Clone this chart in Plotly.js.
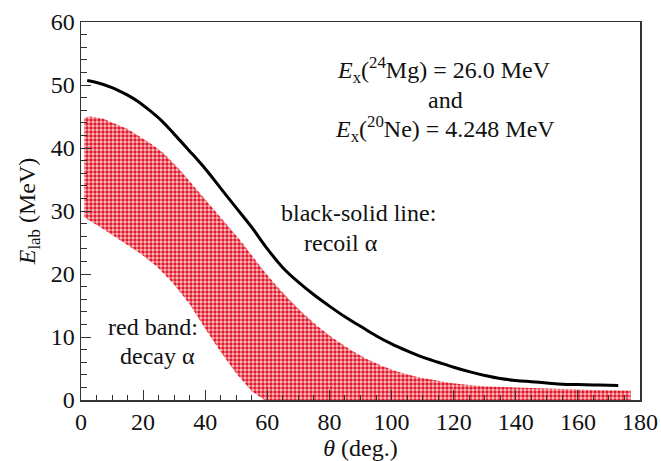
<!DOCTYPE html>
<html>
<head>
<meta charset="utf-8">
<script src="https://cdn.plot.ly/plotly-3.0.1.min.js"></script>
<style>
html,body{margin:0;padding:0;background:#fff;}
#chart{width:661px;height:461px;}
</style>
</head>
<body>
<div id="chart"></div>
<script>
// Recoil alpha kinematic curve (black solid line)
const recoilTheta = [2, 5, 10, 15, 18, 22, 26, 30, 35, 40, 45, 50, 55, 60, 65, 70, 75, 80, 85, 90, 95, 100, 105, 110, 115, 120, 125, 130, 135, 140, 145, 150, 155, 160, 165, 170, 173];
const recoilE     = [50.7, 50.4, 49.6, 48.4, 47.5, 46.0, 44.3, 42.2, 39.5, 36.7, 33.6, 30.5, 27.4, 24.0, 21.0, 18.7, 16.7, 14.9, 13.2, 11.7, 10.2, 8.9, 7.8, 6.8, 6.0, 5.2, 4.5, 3.9, 3.4, 3.1, 2.9, 2.7, 2.5, 2.45, 2.4, 2.35, 2.3];

// Decay alpha band (red) — upper and lower envelopes
const bandUpperTheta = [1, 3, 7, 10.4, 15, 19, 23, 26.5, 31.9, 38.3, 44.8, 51.2, 58.7, 63, 67, 71, 76, 81, 87, 92, 97, 102, 108, 113, 119, 125, 130, 140, 150, 165, 177];
const bandUpperE     = [44.8, 45.0, 44.7, 44.0, 43.0, 41.8, 40.5, 39.2, 36.5, 32.8, 29.1, 25.4, 20.6, 18.1, 16.0, 14.0, 11.8, 9.9, 7.9, 6.5, 5.4, 4.5, 3.7, 3.2, 2.7, 2.4, 2.2, 2.0, 1.8, 1.6, 1.5];
const bandLowerTheta = [1, 6, 12.6, 19, 24.4, 29.7, 35, 40, 45, 50, 55, 59, 177];
const bandLowerE     = [29.0, 27.5, 25.4, 23.3, 21.2, 18.5, 15.2, 11.3, 7.6, 4.2, 1.4, 0.0, 0.0];

const xTicks = [0, 20, 40, 60, 80, 100, 120, 140, 160, 180];
const yTicks = [0, 10, 20, 30, 40, 50, 60];

const bandX = bandUpperTheta.concat(bandLowerTheta.slice().reverse());
const bandY = bandUpperE.concat(bandLowerE.slice().reverse());

const serif = 'Times New Roman';

const traces = [
  {
    x: bandX, y: bandY, type: 'scatter', mode: 'lines',
    fill: 'toself', line: {width: 0, color: 'rgba(0,0,0,0)'},
    fillcolor: 'rgb(240,120,130)',
    fillpattern: {shape: '.', fgcolor: 'rgb(228,25,40)', bgcolor: 'rgb(250,200,205)', size: 4, solidity: 0.6},
    hoverinfo: 'skip', showlegend: false
  },
  {
    x: recoilTheta, y: recoilE, type: 'scatter', mode: 'lines',
    line: {color: 'black', width: 3, shape: 'spline'},
    showlegend: false
  }
];

const axisCommon = {
  showgrid: false, zeroline: false, showline: true, mirror: true,
  linecolor: '#333', linewidth: 1.5, ticks: 'inside', tickcolor: '#333',
  tickfont: {family: serif, size: 24, color: '#111'}
};

const layout = {
  width: 661, height: 461,
  margin: {l: 81, r: 21, t: 22, b: 61},
  paper_bgcolor: '#fff', plot_bgcolor: '#fff',
  font: {family: serif, size: 24, color: '#111'},
  showlegend: false,
  xaxis: Object.assign({}, axisCommon, {
    range: [0, 180], tickvals: xTicks, ticklen: 10, tickwidth: 1,
    minor: {dtick: 5, ticklen: 5, ticks: 'inside', tickcolor: '#333', tickwidth: 1},
    title: {text: '<i>θ</i> (deg.)', font: {family: serif, size: 24, color: '#111'}, standoff: 8}
  }),
  yaxis: Object.assign({}, axisCommon, {
    range: [0, 60], tickvals: yTicks, ticklen: 10, tickwidth: 1,
    minor: {dtick: 2, ticklen: 6, ticks: 'inside', tickcolor: '#333', tickwidth: 1},
    title: {text: '<i>E</i><sub>lab</sub> (MeV)', font: {family: serif, size: 24, color: '#111'}, standoff: 8}
  })
};

function pxA(text, cx, cy) {
  const x = (cx - 81) / (640 - 81) * 180;
  const y = (400 - cy) / (400 - 22) * 60;
  return {x: x, y: y, xref: 'x', yref: 'y', text: text, showarrow: false,
          font: {family: serif, size: 24, color: '#111'}, xanchor: 'center', yanchor: 'middle'};
}
layout.annotations = [
  pxA('<i>E</i><sub>x</sub>(<sup>24</sup>Mg) = 26.0 MeV', 444, 70),
  pxA('and', 445, 100),
  pxA('<i>E</i><sub>x</sub>(<sup>20</sup>Ne) = 4.248 MeV', 445, 129),
  pxA('black-solid line:', 358, 213),
  pxA('recoil α', 341, 243),
  pxA('red band:', 153, 327),
  pxA('decay α', 157, 356)
];

Plotly.newPlot('chart', traces, layout, {displayModeBar: false, staticPlot: true});
</script>
</body>
</html>
